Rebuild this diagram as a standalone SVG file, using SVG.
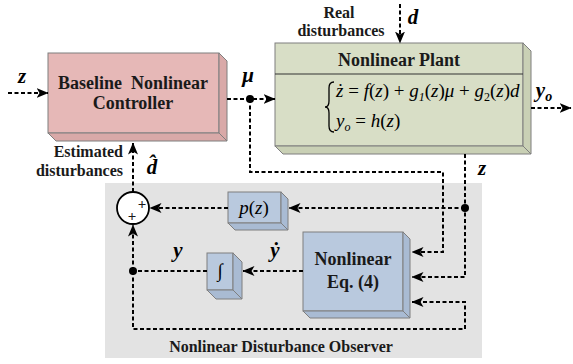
<svg xmlns="http://www.w3.org/2000/svg" width="573" height="364" viewBox="0 0 573 364">
<defs>
<marker id="ah" viewBox="0 0 12 10" refX="11.5" refY="5" markerWidth="12" markerHeight="10" orient="auto" markerUnits="userSpaceOnUse"><path d="M0,0 L12,5 L0,10 L3,5 z" fill="#000"/></marker>
</defs>
<style>
.dash{fill:none;stroke:#000;stroke-width:2;stroke-dasharray:4 2.5}
.t{font-weight:bold;fill:#1a1a1a}
.m{font-style:italic;font-weight:bold;font-size:21px;fill:#000}
.eq{font-style:italic;font-size:19px;fill:#000}
.up{font-style:normal}
.edge{stroke:#7f7f7f;stroke-width:1}
.pink{fill:#e6b8b7}
.pinks{fill:#d9a9a8}
.green{fill:#d8dec6}
.greens{fill:#c9d0b5}
.blue{fill:#b9c9de}
.blues{fill:#a9bbd3}
.dot{fill:#000}
</style>
<rect width="573" height="364" fill="#fff"/>
<rect id="observer-area" x="105" y="183" width="377" height="175" fill="#e3e3e3"/>
<g font-family="Liberation Serif, serif">
<g id="controller">
<rect class="pink edge" x="48" y="53" width="171" height="80"/>
<polygon class="pinks edge" points="219,53 227,61 227,141 219,133"/>
<polygon class="pinks edge" points="48,133 219,133 227,141 56,141"/>
<text class="t" font-size="18" text-anchor="middle" xml:space="preserve"><tspan x="133" y="89">Baseline  Nonlinear</tspan><tspan x="133" y="109">Controller</tspan></text>
</g>

<g id="plant">
<rect class="green edge" x="275" y="43" width="248" height="103"/>
<polygon class="greens edge" points="523,43 531,51 531,154 523,146"/>
<polygon class="greens edge" points="275,146 523,146 531,154 283,154"/>
<line x1="275" y1="74" x2="523" y2="74" stroke="#333" stroke-width="1.2"/>
<text class="t" font-size="18" text-anchor="middle" x="399" y="66">Nonlinear Plant</text>
<path d="M334,82 Q329,82 329,88 L329,101 Q329,107 325,107 Q329,107 329,113 L329,126 Q329,132 334,132" fill="none" stroke="#000" stroke-width="1.3"/>
<text class="eq" x="336" y="97" xml:space="preserve">ż <tspan class="up">=</tspan> f<tspan class="up">(</tspan>z<tspan class="up">)</tspan> <tspan class="up">+</tspan> g<tspan font-size="12" dy="4">1</tspan><tspan dy="-4" class="up">(</tspan>z<tspan class="up">)</tspan>μ <tspan class="up">+</tspan> g<tspan font-size="12" dy="4" class="up">2</tspan><tspan dy="-4" class="up">(</tspan>z<tspan class="up">)</tspan>d</text>
<text class="eq" x="336" y="127" xml:space="preserve">y<tspan font-size="12" dy="4">o</tspan><tspan dy="-4" class="up"> = </tspan>h<tspan class="up">(</tspan>z<tspan class="up">)</tspan></text>
</g>

<g id="pz">
<rect class="blue edge" x="228" y="192" width="53" height="31"/>
<polygon class="blues edge" points="281,192 288,199 288,230 281,223"/>
<polygon class="blues edge" points="228,223 281,223 288,230 235,230"/>
<text class="eq" x="254" y="214" text-anchor="middle">p<tspan class="up">(</tspan>z<tspan class="up">)</tspan></text>
</g>

<g id="integrator">
<rect class="blue edge" x="207" y="253" width="26" height="37"/>
<polygon class="blues edge" points="233,253 242,262 242,299 233,290"/>
<polygon class="blues edge" points="207,290 233,290 242,299 216,299"/>
<text class="eq" x="220" y="277" text-anchor="middle" font-size="17" style="font-style:normal">∫</text>
</g>

<g id="nonlinear-eq">
<rect class="blue edge" x="303" y="232" width="100" height="79"/>
<polygon class="blues edge" points="403,232 410,239 410,318 403,311"/>
<polygon class="blues edge" points="303,311 403,311 410,318 310,318"/>
<text class="t" font-size="18" text-anchor="middle"><tspan x="353" y="265">Nonlinear</tspan><tspan x="353" y="288">Eq. (4)</tspan></text>
</g>

<g id="sum">
<circle cx="133" cy="208" r="16" fill="#fff" stroke="#000" stroke-width="1.8"/>
<text class="t" font-size="15" text-anchor="middle" x="142" y="209" fill="#000">+</text>
<text class="t" font-size="15" text-anchor="middle" x="132" y="221" fill="#000">+</text>
</g>

<g id="connectors">
<path class="dash" d="M8,93 L48,93" marker-end="url(#ah)"/>
<path class="dash" d="M227,99 L275,99" marker-end="url(#ah)"/>
<path class="dash" d="M250,99 L250,172 L443,172 L443,252 L412,252" marker-end="url(#ah)"/>
<path class="dash" d="M531,108 L571,108" marker-end="url(#ah)"/>
<path class="dash" d="M400,4 L400,43" marker-end="url(#ah)"/>
<path class="dash" d="M465,154 L465,277 L412,277" marker-end="url(#ah)"/>
<path class="dash" d="M465,208 L289,208" marker-end="url(#ah)"/>
<path class="dash" d="M228,208 L150,208" marker-end="url(#ah)"/>
<path class="dash" d="M133,192 L133,143" marker-end="url(#ah)"/>
<path class="dash" d="M303,271 L243,271" marker-end="url(#ah)"/>
<path class="dash" d="M207,271 L133,271"/>
<path class="dash" d="M133,271 L133,225" marker-end="url(#ah)"/>
<path class="dash" d="M133,271 L133,329 L465,329 L465,302 L412,302" marker-end="url(#ah)"/>
<circle class="dot" cx="250" cy="99" r="4"/>
<circle class="dot" cx="465" cy="208" r="4"/>
<circle class="dot" cx="133" cy="271" r="4"/>
</g>

<g id="labels">
<text class="m" x="22" y="83" text-anchor="middle">z</text>
<text class="m" x="248" y="82" text-anchor="middle">μ</text>
<text class="m" x="413" y="24" text-anchor="middle">d</text>
<text class="m" x="544" y="97" text-anchor="middle">y<tspan font-size="14" dy="4">o</tspan></text>
<text class="m" x="482" y="175" text-anchor="middle">z</text>
<text class="m" x="152" y="174" text-anchor="middle">d̂</text>
<text class="m" x="275" y="257" text-anchor="middle">ẏ</text>
<text class="m" x="178" y="257" text-anchor="middle">y</text>
<text class="t" font-size="16" text-anchor="end"><tspan x="123" y="157">Estimated</tspan><tspan x="123" y="176">disturbances</tspan></text>
<text class="t" font-size="16" text-anchor="middle"><tspan x="339" y="18">Real</tspan><tspan x="341" y="36">disturbances</tspan></text>
<text class="t" font-size="16" text-anchor="middle" x="281" y="352">Nonlinear Disturbance Observer</text>
</g>
</g>
</svg>
